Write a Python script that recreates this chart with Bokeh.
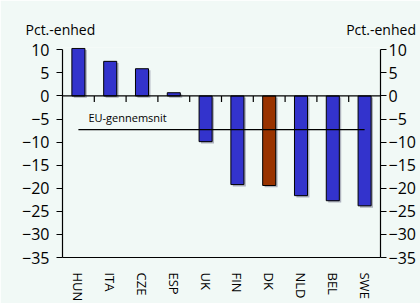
import numpy as np
from bokeh.plotting import figure
from bokeh.models import (ColumnDataSource, LinearAxis, FixedTicker, Range1d,
                          FactorRange, Span, Title)
from bokeh.transform import dodge
from bokeh.embed import file_html
from bokeh.resources import INLINE
from bokeh.core.properties import value

# ---- data ----
countries = ["HUN", "ITA", "CZE", "ESP", "UK", "FIN", "DK", "NLD", "BEL", "SWE"]
changes = [10.3, 7.5, 5.9, 0.7, -9.9, -19.2, -19.4, -21.6, -22.7, -23.8]
eu_average = -7.3
highlight = "DK"
y_ticks = [10, 5, 0, -5, -10, -15, -20, -25, -30, -35]
unit_label = "Pct.-enhed"
eu_label = "EU-gennemsnit"

BG = "#f1f9f6"
FONT = "Open Sans"
BLUE = "#3333cc"
RED = "#993300"
Y_TOP = 10.5

vals = np.array(changes)
src = ColumnDataSource(dict(
    country=countries,
    value=changes,
    color=[RED if c == highlight else BLUE for c in countries],
    sh_top=np.maximum(vals, 0) - 0.35,
    sh_bot=np.minimum(vals, 0) - 0.4,
))
edges = ColumnDataSource(dict(edge=countries[1:],
                              y0=[0] * (len(countries) - 1),
                              y1=[-1.3] * (len(countries) - 1)))

FW, FH = 318, 210
ML, MR, MT, MB = 62, 40, 47, 46

p = figure(x_range=FactorRange(*countries), y_range=Range1d(-35, Y_TOP),
           frame_width=FW, frame_height=FH, output_backend="svg", toolbar_location=None,
           min_border_left=ML, min_border_right=MR, min_border_top=MT,
           min_border_bottom=MB, background_fill_color=BG, border_fill_color=BG,
           outline_line_color=None)
p.xgrid.visible = False
p.ygrid.visible = False

# bottom categorical axis
xa = p.xaxis[0]
xa.major_tick_line_color = None
xa.major_tick_out = 0
xa.major_tick_in = 0
xa.minor_tick_line_color = None
xa.axis_line_color = "black"
xa.axis_line_width = 1.2
xa.major_label_orientation = "vertical"
xa.major_label_text_font = FONT
xa.major_label_text_font_size = "13px"
xa.major_label_text_color = "black"
xa.major_label_standoff = 15

def style_y(ax, standoff):
    ax.ticker = FixedTicker(ticks=y_ticks)
    ax.bounds = (min(y_ticks), max(y_ticks))
    ax.major_tick_out = 6
    ax.major_tick_in = 0
    ax.minor_tick_line_color = None
    ax.axis_line_color = "black"
    ax.axis_line_width = 1.2
    ax.major_tick_line_color = "black"
    ax.major_label_text_font = FONT
    ax.major_label_text_font_size = "16px"
    ax.major_label_text_color = "black"
    ax.major_label_standoff = standoff

style_y(p.yaxis[0], 7)
ra = LinearAxis()
style_y(ra, 2)
p.add_layout(ra, "right")

# unit labels above the left and right axes (one title row, non-breaking gap)
gap = "\u00a0" * 69
p.add_layout(Title(text=unit_label + gap + unit_label, align="left", offset=-37,
                   standoff=17, text_font=FONT, text_font_size="14px",
                   text_font_style="normal", text_color="black"), "above")

# bars with shadow
p.vbar(x=dodge("country", 0.06, range=p.x_range), top="sh_top", bottom="sh_bot",
       width=0.41, source=src, fill_color="#aeb2bd", line_color=None)
p.vbar(x="country", top="value", bottom=0, width=0.41, source=src,
       fill_color="color", line_color="black", line_width=1)

# zero line with ticks at category boundaries
p.add_layout(Span(location=0, dimension="width", line_color="black", line_width=1.2))
p.segment(x0=dodge("edge", -0.5, range=p.x_range), x1=dodge("edge", -0.5, range=p.x_range),
          y0="y0", y1="y1", source=edges, line_color="black", line_width=1.2)

# EU average line and label
p.line(x=[countries[0], countries[-1]], y=[eu_average, eu_average],
       line_color="black", line_width=1.3)
p.text(x=[countries[0]], y=[eu_average], text=[eu_label], x_offset=10,
       y_offset=-12.5, text_font=value(FONT), text_font_size="11px",
       text_baseline="middle", text_color="black")

open("out.html", "w").write(file_html(p, INLINE))
